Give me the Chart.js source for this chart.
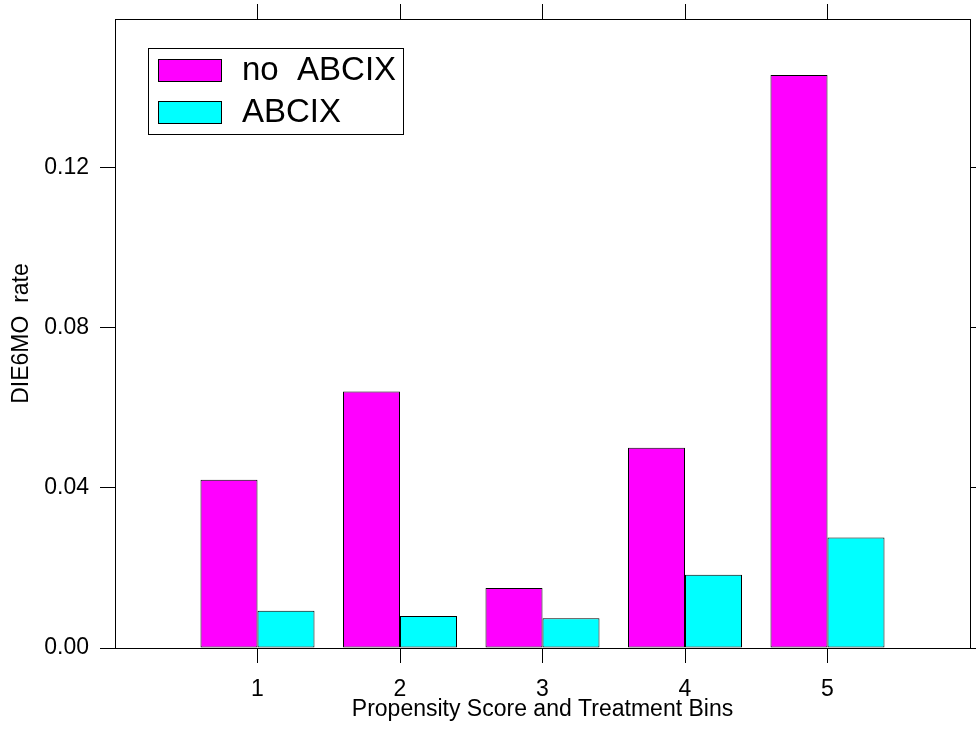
<!DOCTYPE html>
<html>
<head>
<meta charset="utf-8">
<script src="https://cdn.jsdelivr.net/npm/chart.js@4.4.1/dist/chart.umd.min.js"></script>
<style>
  html,body{margin:0;padding:0;background:#fff;}
  #wrap{width:976px;height:735px;}
</style>
</head>
<body>
<div id="wrap"><canvas id="c" width="976" height="735"></canvas></div>
<script>
// bins de propensity score, tasa DIE6MO por grupo de tratamiento
const bins = ['1','2','3','4','5'];
const noAbcix = [0.042, 0.064, 0.015, 0.050, 0.143];
const abcix   = [0.0093, 0.008, 0.0074, 0.0183, 0.0276];
const yTicks  = [0, 0.04, 0.08, 0.12];
const yMax = 0.157;

const FONT = '"Liberation Sans", Arial, Helvetica, sans-serif';
const FS = 23;

// una categoría vacía a cada lado para que el eje vaya de 0 a 6
const labels = ['', ...bins, ''];
const pad = arr => [null, ...arr, null];

// marcas solo en las categorías reales
const tickCol = c => (c.index === 0 || c.index === labels.length - 1) ? 'rgba(0,0,0,0)' : '#000';

// sin márgenes extra por etiquetas: el área de trazado la fijan los afterFit
function noPad(s){ s.paddingLeft = 0; s.paddingRight = 0; s.paddingTop = 0; s.paddingBottom = 0; }

// leyenda con recuadro dentro del área de trazado
const boxLegend = {
  id: 'boxLegend',
  afterDatasetsDraw(chart){
    const ctx = chart.ctx, a = chart.chartArea;
    const x0 = a.left + 33, y0 = a.top + 29;
    ctx.save();
    ctx.fillStyle = '#fff';
    ctx.fillRect(x0, y0, 255, 86);
    ctx.strokeStyle = '#000'; ctx.lineWidth = 1;
    ctx.strokeRect(x0 + .5, y0 + .5, 255, 86);
    chart.data.datasets.forEach((ds, i) => {
      const sy = y0 + 11 + i * 42;
      ctx.fillStyle = ds.backgroundColor;
      ctx.fillRect(x0 + 10, sy, 63, 22);
      ctx.strokeRect(x0 + 10.5, sy + .5, 63, 22);
      ctx.fillStyle = '#000';
      ctx.font = '33px ' + FONT;
      ctx.textBaseline = 'middle';
      ctx.fillText(ds.label, x0 + 94, sy + 12);
    });
    ctx.restore();
  }
};

new Chart(document.getElementById('c'), {
  type: 'bar',
  data: {
    labels,
    datasets: [
      {label:'no  ABCIX', data: pad(noAbcix), backgroundColor:'#ff00ff', borderColor:'#000', borderWidth:1, borderSkipped:false},
      {label:'ABCIX',     data: pad(abcix),   backgroundColor:'#00ffff', borderColor:'#000', borderWidth:1, borderSkipped:false}
    ]
  },
  options: {
    responsive:false, animation:false,
    layout:{padding:0},
    plugins:{legend:{display:false}, tooltip:{enabled:false}},
    datasets:{bar:{categoryPercentage:0.8, barPercentage:1.0}},
    scales:{
      x:{
        position:'bottom', offset:false,
        grid:{offset:false, drawOnChartArea:false, drawTicks:true, tickLength:15, tickColor:tickCol},
        border:{display:true, color:'#000', width:1},
        ticks:{color:'#000', font:{family:FONT, size:FS}, padding:13, maxRotation:0, autoSkip:false},
        title:{display:true, text:'Propensity Score and Treatment Bins', color:'#000', font:{family:FONT, size:FS}, padding:{top:0, bottom:12}},
        afterFit(s){ s.height = 87; noPad(s); }
      },
      x2:{
        type:'category', position:'top', offset:false,
        grid:{offset:false, drawOnChartArea:false, drawTicks:true, tickLength:15, tickColor:tickCol},
        border:{display:true, color:'#000', width:1},
        ticks:{callback:()=>'', padding:0},
        afterFit(s){ s.height = 19; noPad(s); }
      },
      y:{
        position:'left', min:0, max:yMax,
        afterBuildTicks(s){ s.ticks = yTicks.map(v => ({value:v})); },
        grid:{drawOnChartArea:false, drawTicks:true, tickLength:15, tickColor:'#000'},
        border:{display:true, color:'#000', width:1},
        ticks:{color:'#000', font:{family:FONT, size:FS}, padding:11, callback:v => v.toFixed(2)},
        title:{display:true, text:'DIE6MO  rate', color:'#000', font:{family:FONT, size:FS}, padding:{top:8, bottom:0}},
        afterFit(s){ s.width = 115; noPad(s); }
      },
      y2:{
        position:'right', min:0, max:yMax,
        afterBuildTicks(s){ s.ticks = yTicks.map(v => ({value:v})); },
        grid:{drawOnChartArea:false, drawTicks:true, tickLength:15, tickColor:'#000'},
        border:{display:true, color:'#000', width:1},
        ticks:{callback:()=>'', padding:0},
        afterFit(s){ s.width = 6; noPad(s); }
      }
    }
  },
  plugins:[boxLegend]
});
</script>
</body>
</html>
